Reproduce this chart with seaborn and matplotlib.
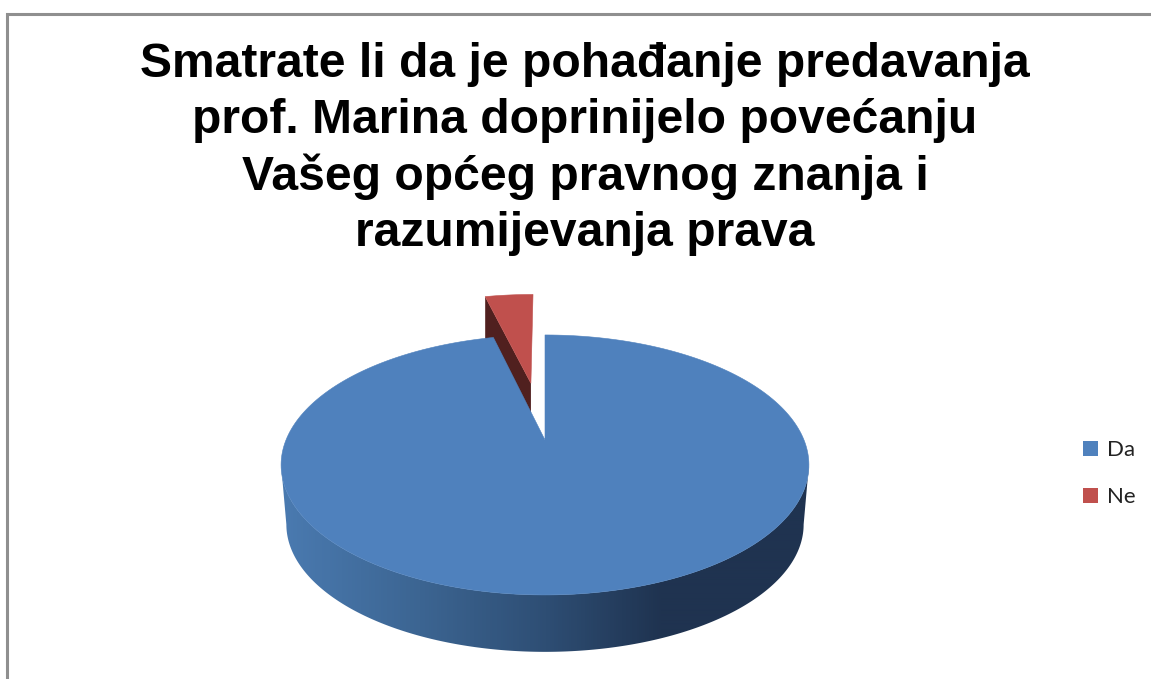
import numpy as np
import matplotlib
matplotlib.use("Agg")
import matplotlib.pyplot as plt
from matplotlib.patches import Patch, Polygon
from matplotlib.colors import LinearSegmentedColormap
from matplotlib.transforms import Affine2D
import seaborn as sns

# ---- data ----
categories = ["Da", "Ne"]
values = [96.2, 3.8]
explode = [0.0, 0.50]
title_lines = [
    "Smatrate li da je pohađanje predavanja",
    "prof. Marina doprinijelo povećanju",
    "Vašeg općeg pravnog znanja i",
    "razumijevanja prava",
]

# ---- style ----
sns.set_theme(style="white")
plt.rcParams["font.family"] = ["Liberation Sans", "DejaVu Sans"]
colors = sns.color_palette(["#4f81bd", "#c0504d"])
NE_WALL = "#50201f"
FRAME = "#8f8f8f"
W, H = 1151, 679

fig = plt.figure(figsize=(W / 100, H / 100), dpi=100)
calc = fig.add_axes([0, 0, 0.01, 0.01])
ax = fig.add_axes([0, 0, 1, 1])
ax.set_xlim(0, W)
ax.set_ylim(H, 0)
ax.axis("off")

# projection of the pie's plane into the picture (perspective tilt)
CX, CY = 545.0, 440.0
A, B, RX = 125.2, 0.192, 259.0


def project(u, v):
    d = 1 + B * np.asarray(v)
    return CX + RX * np.asarray(u) / d, CY - A * np.asarray(v) / d


def project_low(u, v):
    x, y = project(u, v)
    return CX + 0.98 * (x - CX), CY + 60 + 0.98 * (y - CY)


# wedges come from the library's pie layout
wedges, _ = calc.pie(values, explode=explode, startangle=90, counterclock=False,
                     colors=colors, radius=1)
polys = []
for w in wedges:
    p = w.get_path().transformed(w.get_patch_transform() + Affine2D().scale(2000))
    polys.append(p.to_polygons(closed_only=True)[0] / 2000)
calc.remove()

# side wall of the large slice: horizontal gradient clipped to its silhouette
tangent = np.arcsin(B)
front = np.linspace(np.pi + tangent, 2 * np.pi - tangent, 400)
tx, ty = project(np.cos(front), np.sin(front))
lx, ly = project_low(np.cos(front), np.sin(front))
outline = np.column_stack([np.r_[tx, lx[::-1]], np.r_[ty, ly[::-1]]])
wall_cmap = LinearSegmentedColormap.from_list(
    "wall", [(0.0, "#4a7ab0"), (0.26, "#3c6592"), (0.50, "#2e4e74"),
             (0.72, "#1f3350"), (1.0, "#1f3350")])
grad = ax.imshow(np.linspace(0, 1, 528)[None, :], extent=(282, 810, 660, 460),
                 cmap=wall_cmap, aspect="auto", zorder=1, interpolation="bilinear")
clip = Polygon(outline, closed=True, transform=ax.transData, facecolor="none", edgecolor="none")
ax.add_patch(clip)
grad.set_clip_path(clip)
ax.set_xlim(0, W)
ax.set_ylim(H, 0)

# inner wall of the exploded slice
mid = sum(values)
bis = np.deg2rad(90 + 180 * values[1] / mid)
ox, oy = explode[1] * np.cos(bis), explode[1] * np.sin(bis)
ang_edge = np.deg2rad(90 + 360 * values[1] / mid)
ex, ey = ox + np.cos(ang_edge), oy + np.sin(ang_edge)
x1, y1 = project(ox, oy)
x2, y2 = project(ex, ey)
ax.fill([x1, x2, x2, x1], [y1, y2, y2 + 46, y1 + 46], color=NE_WALL, lw=0, zorder=2)

# top faces (Ne behind Da)
for poly, col, z in [(polys[1], colors[1], 3), (polys[0], colors[0], 4)]:
    px, py = project(poly[:, 0], poly[:, 1])
    ax.fill(px, py, color=col, lw=0.4, zorder=z)

# frame
ax.plot([7.5, 7.5, W], [H, 13.5, 13.5], color=FRAME, lw=2.2, zorder=5,
        solid_joinstyle="miter", clip_on=False)

# title
ax.text(585, 149, "\n".join(title_lines), ha="center", va="center",
        fontsize=34.6, fontweight="bold", color="black", linespacing=1.3)

# legend
handles = [Patch(facecolor=c, edgecolor="none") for c in colors]
ax.legend(handles, categories, loc="upper left",
          bbox_to_anchor=(1079, 436), bbox_transform=ax.transData,
          frameon=False, prop={"family": "Lato", "size": 16},
          handlelength=0.66, handleheight=0.66, handletextpad=0.4,
          labelspacing=1.2, labelcolor="#222222", borderpad=0.2, borderaxespad=0)

fig.savefig("out.png", dpi=100)
